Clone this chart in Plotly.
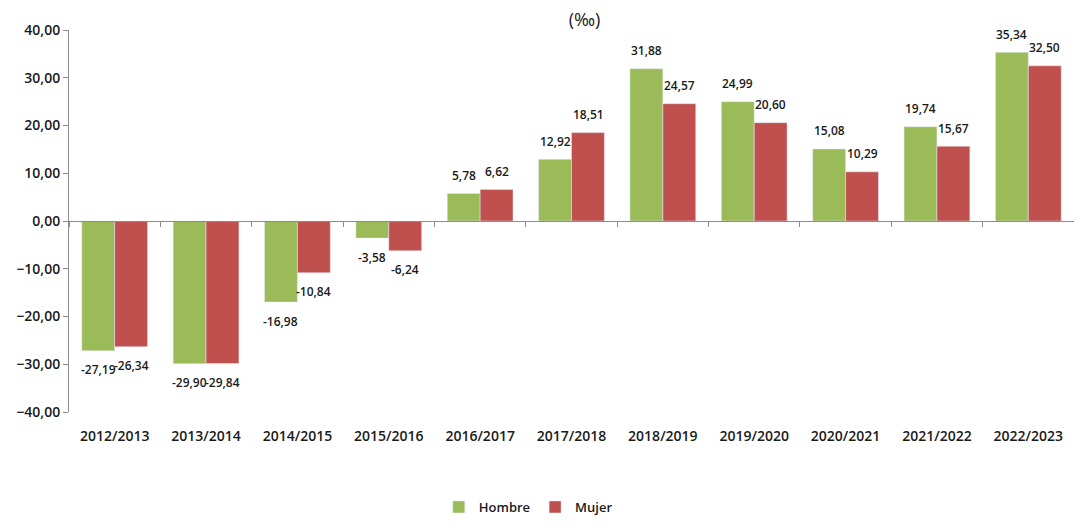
import plotly.graph_objects as go

# datos
cursos = ['2012/2013', '2013/2014', '2014/2015', '2015/2016', '2016/2017', '2017/2018',
          '2018/2019', '2019/2020', '2020/2021', '2021/2022', '2022/2023']
hombre = [-27.19, -29.90, -16.98, -3.58, 5.78, 12.92, 31.88, 24.99, 15.08, 19.74, 35.34]
mujer = [-26.34, -29.84, -10.84, -6.24, 6.62, 18.51, 24.57, 20.60, 10.29, 15.67, 32.50]
ticks_y = [-40, -30, -20, -10, 0, 10, 20, 30, 40]

verde = '#9BBB59'
rojo = '#C0504D'
fuente = 'Open Sans, Noto Sans, sans-serif'
texto = '#1a1a1a'

# la pagina html suma 8px de margen por lado: el grafico se reduce para caber
ANCHO, ALTO = 1066, 514

fig = go.Figure()
fig.add_trace(go.Bar(x=cursos, y=hombre, name='Hombre', marker_color=verde))
fig.add_trace(go.Bar(x=cursos, y=mujer, name='Mujer', marker_color=rojo))
# traza auxiliar para el eje del cero con marcas entre categorias
fig.add_trace(go.Scatter(x=cursos, y=[0] * len(cursos), xaxis='x2', mode='lines',
                         line=dict(color='rgba(0,0,0,0)'), showlegend=False, hoverinfo='skip'))

# etiquetas de datos (estilo Excel, separadas de la barra)
def etiquetas(valores, desplaz_x):
    for c, v in zip(cursos, valores):
        fig.add_annotation(x=c, y=v, text=f'{v:.2f}'.replace('.', ','), showarrow=False,
                           xshift=desplaz_x, yshift=18 if v >= 0 else -19,
                           yanchor='middle', xanchor='center',
                           font=dict(size=12, color=texto, weight=600))

etiquetas(hombre, -16.5)
etiquetas(mujer, 16.5)

fig.update_layout(
    width=ANCHO,
    height=ALTO,
    margin=dict(l=61, r=0, t=22, b=110),
    plot_bgcolor='white',
    paper_bgcolor='white',
    separators=',.',
    font=dict(family=fuente, size=14, color=texto, weight=600),
    barmode='group',
    bargap=0.28,
    bargroupgap=0,
    title=dict(text='(‰)', x=0.513, xref='paper', xanchor='center',
               y=1 - 12 / ALTO, yref='container', yanchor='middle',
               font=dict(size=18, color=texto, weight=400)),
    xaxis=dict(type='category', showline=False, ticks='', ticklabelstandoff=14,
               tickfont=dict(size=14), showgrid=False, zeroline=False, automargin=False),
    xaxis2=dict(type='category', overlaying='x', matches='x', anchor='free', position=0.5,
                side='bottom', showline=True, linecolor='#8c8c8c', linewidth=1,
                ticks='outside', tickson='boundaries', ticklen=5, tickcolor='#8c8c8c',
                showticklabels=False, showgrid=False, zeroline=False, automargin=False),
    yaxis=dict(range=[-40, 40], tickvals=ticks_y, tickformat='.2f', showgrid=False,
               zeroline=False, showline=True, linecolor='#8c8c8c', linewidth=1,
               ticks='outside', ticklen=5, tickcolor='#8c8c8c', tickfont=dict(size=14),
               automargin=False),
    legend=dict(orientation='h', x=0.457, xanchor='center',
                y=-0.288, yanchor='bottom', font=dict(size=13), traceorder='normal',
                itemwidth=30),
)

fig.write_html('out.html')
